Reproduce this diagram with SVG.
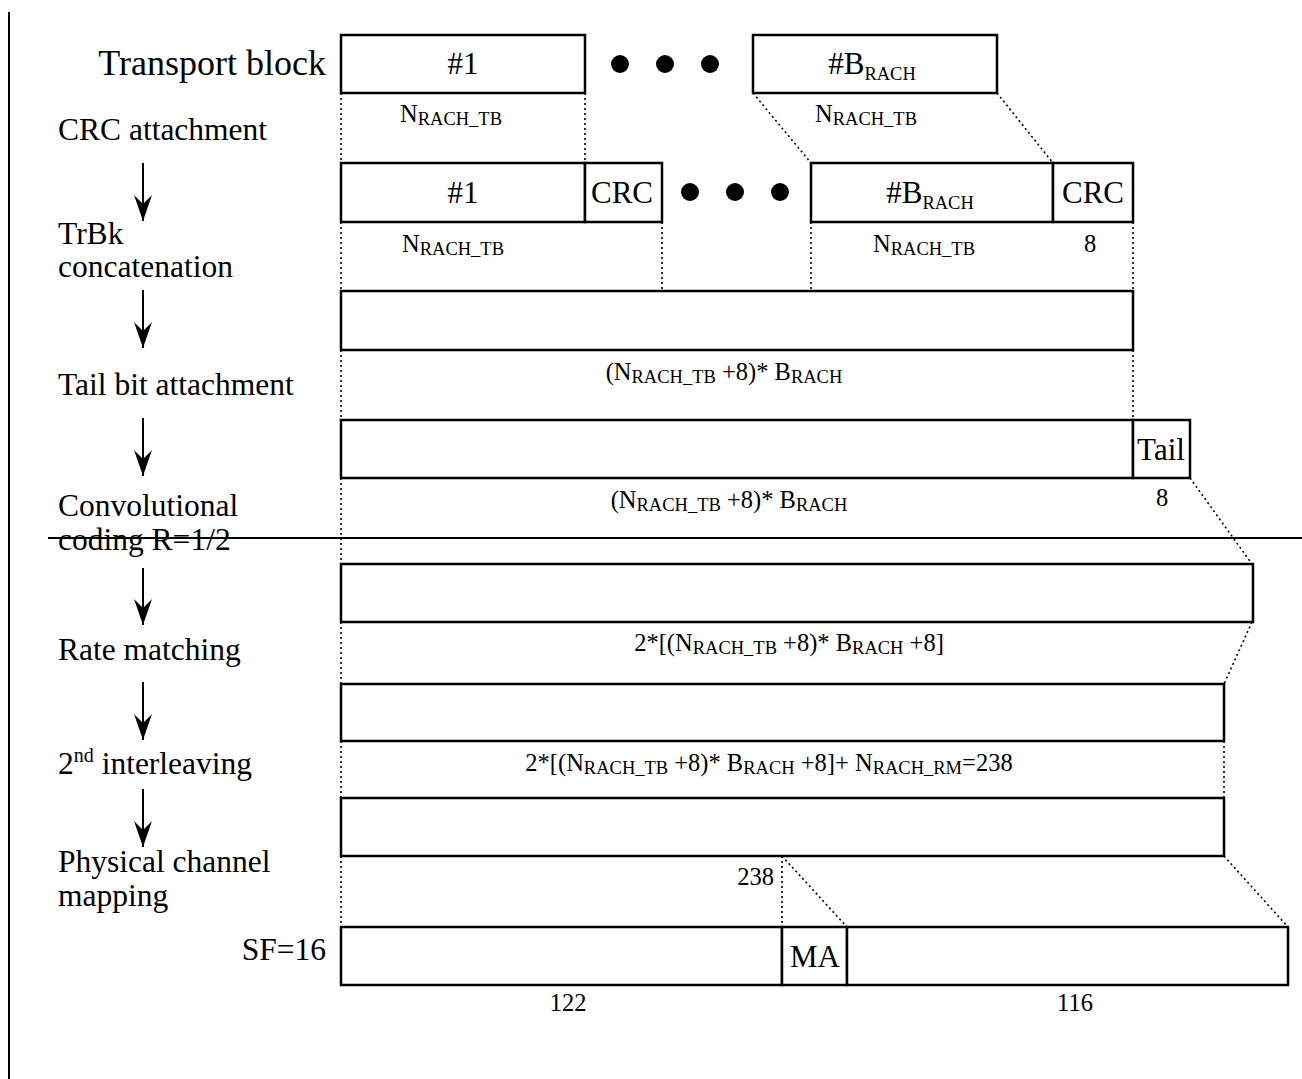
<svg xmlns="http://www.w3.org/2000/svg" width="1302" height="1079" viewBox="0 0 1302 1079">
<style>
  text { font-family: "Liberation Serif", "Times New Roman", serif; fill: #000; }
  .lbl { font-size: 31.5px; }
  .big { font-size: 36px; }
  .bx { font-size: 31px; text-anchor: middle; }
  .dim { font-size: 24.5px; }
  .sub { font-size: 18.5px; }
  .box { fill: #fff; stroke: #000; stroke-width: 2.5; }
  .dot { fill: none; stroke: #000; stroke-width: 1.6; stroke-dasharray: 2 3; }
  .arr { fill: none; stroke: #000; stroke-width: 2; marker-end: url(#ah); }
  .rule { stroke: #000; stroke-width: 2; fill: none; }
</style>
<defs>
  <marker id="ah" viewBox="0 -10 28 20" refX="26" refY="0" markerWidth="28" markerHeight="20" markerUnits="userSpaceOnUse" orient="auto">
    <path d="M0,-9 L26,0 L0,9 L9,0 Z" fill="#000"/>
  </marker>
</defs>
<rect width="1302" height="1079" fill="#fff"/>

<g id="frame">
  <line class="rule" x1="9" y1="12" x2="9" y2="1079"/>
  <line class="rule" x1="48" y1="538" x2="1302" y2="538"/>
</g>

<g id="labels">
  <text class="big" x="326" y="75" text-anchor="end">Transport block</text>
  <text class="lbl" x="58" y="140">CRC attachment</text>
  <text class="lbl" x="58" y="244">TrBk</text>
  <text class="lbl" x="58" y="277">concatenation</text>
  <text class="lbl" x="58" y="395">Tail bit attachment</text>
  <text class="lbl" x="58" y="516">Convolutional</text>
  <text class="lbl" x="58" y="550">coding R=1/2</text>
  <text class="lbl" x="58" y="660">Rate matching</text>
  <text class="lbl" x="58" y="774">2<tspan font-size="20" dy="-12">nd</tspan><tspan dy="12"> interleaving</tspan></text>
  <text class="lbl" x="58" y="872">Physical channel</text>
  <text class="lbl" x="58" y="906">mapping</text>
  <text class="lbl" x="326" y="960" text-anchor="end">SF=16</text>
</g>

<g id="connectors">
  <line class="arr" x1="143" y1="163" x2="143" y2="221"/>
  <line class="arr" x1="143" y1="290" x2="143" y2="348"/>
  <line class="arr" x1="143" y1="418" x2="143" y2="476"/>
  <line class="arr" x1="143" y1="568" x2="143" y2="625"/>
  <line class="arr" x1="143" y1="682" x2="143" y2="740"/>
  <line class="arr" x1="143" y1="789" x2="143" y2="847"/>

  <line class="dot" x1="341" y1="93" x2="341" y2="163"/>
  <line class="dot" x1="585" y1="93" x2="585" y2="163"/>
  <line class="dot" x1="753" y1="93" x2="811" y2="163"/>
  <line class="dot" x1="997" y1="93" x2="1053" y2="163"/>

  <line class="dot" x1="341" y1="222" x2="341" y2="291"/>
  <line class="dot" x1="662" y1="222" x2="662" y2="291"/>
  <line class="dot" x1="811" y1="222" x2="811" y2="291"/>
  <line class="dot" x1="1133" y1="222" x2="1133" y2="291"/>

  <line class="dot" x1="341" y1="350" x2="341" y2="420"/>
  <line class="dot" x1="1133" y1="350" x2="1133" y2="420"/>

  <line class="dot" x1="341" y1="478" x2="341" y2="564"/>
  <line class="dot" x1="1190" y1="478" x2="1252" y2="564"/>

  <line class="dot" x1="341" y1="622" x2="341" y2="684"/>
  <line class="dot" x1="1252" y1="622" x2="1224" y2="684"/>

  <line class="dot" x1="341" y1="741" x2="341" y2="798"/>
  <line class="dot" x1="1224" y1="741" x2="1224" y2="798"/>

  <line class="dot" x1="341" y1="856" x2="341" y2="927"/>
  <line class="dot" x1="782" y1="856" x2="782" y2="927"/>
  <line class="dot" x1="782" y1="856" x2="847" y2="927"/>
  <line class="dot" x1="1224" y1="856" x2="1288" y2="927"/>
</g>

<g id="tb1">
  <rect class="box" x="341" y="35" width="244" height="58"/>
  <text class="bx" x="463" y="74">#1</text>
  <text class="dim" x="451" y="122" text-anchor="middle">N<tspan class="sub" dy="3">RACH_TB</tspan></text>
</g>
<g id="dots1">
  <circle cx="620" cy="64" r="9"/>
  <circle cx="665" cy="64" r="9"/>
  <circle cx="710" cy="64" r="9"/>
</g>
<g id="tbB">
  <rect class="box" x="753" y="35" width="244" height="58"/>
  <text class="bx" x="872" y="74">#B<tspan class="sub" font-size="22" dy="6">RACH</tspan></text>
  <text class="dim" x="866" y="122" text-anchor="middle">N<tspan class="sub" dy="3">RACH_TB</tspan></text>
</g>

<g id="crc1">
  <rect class="box" x="341" y="163" width="244" height="59"/>
  <text class="bx" x="463" y="203">#1</text>
  <rect class="box" x="585" y="163" width="77" height="59"/>
  <text class="bx" x="622" y="203">CRC</text>
  <text class="dim" x="453" y="252" text-anchor="middle">N<tspan class="sub" dy="3">RACH_TB</tspan></text>
</g>
<g id="dots2">
  <circle cx="690" cy="192" r="9"/>
  <circle cx="735" cy="192" r="9"/>
  <circle cx="780" cy="192" r="9"/>
</g>
<g id="crcB">
  <rect class="box" x="811" y="163" width="242" height="59"/>
  <text class="bx" x="930" y="203">#B<tspan class="sub" font-size="22" dy="6">RACH</tspan></text>
  <rect class="box" x="1053" y="163" width="80" height="59"/>
  <text class="bx" x="1093" y="203">CRC</text>
  <text class="dim" x="924" y="252" text-anchor="middle">N<tspan class="sub" dy="3">RACH_TB</tspan></text>
  <text class="dim" x="1090" y="252" text-anchor="middle">8</text>
</g>

<g id="concat">
  <rect class="box" x="341" y="291" width="792" height="59"/>
  <text class="dim" x="724" y="380" text-anchor="middle">(N<tspan class="sub" dy="3">RACH_TB</tspan><tspan dy="-3"> +8)* B</tspan><tspan class="sub" dy="3">RACH</tspan></text>
</g>

<g id="tail">
  <rect class="box" x="341" y="420" width="792" height="58"/>
  <rect class="box" x="1133" y="420" width="57" height="58"/>
  <text class="bx" x="1161" y="460" font-size="29">Tail</text>
  <text class="dim" x="729" y="508" text-anchor="middle">(N<tspan class="sub" dy="3">RACH_TB</tspan><tspan dy="-3"> +8)* B</tspan><tspan class="sub" dy="3">RACH</tspan></text>
  <text class="dim" x="1162" y="506" text-anchor="middle">8</text>
</g>

<g id="conv">
  <rect class="box" x="341" y="564" width="912" height="58"/>
  <text class="dim" x="789" y="651" text-anchor="middle">2*[(N<tspan class="sub" dy="3">RACH_TB</tspan><tspan dy="-3"> +8)* B</tspan><tspan class="sub" dy="3">RACH</tspan><tspan dy="-3"> +8]</tspan></text>
</g>

<g id="ratematch">
  <rect class="box" x="341" y="684" width="883" height="57"/>
  <text class="dim" x="769" y="771" text-anchor="middle">2*[(N<tspan class="sub" dy="3">RACH_TB</tspan><tspan dy="-3"> +8)* B</tspan><tspan class="sub" dy="3">RACH</tspan><tspan dy="-3"> +8]+ N</tspan><tspan class="sub" dy="3">RACH_RM</tspan><tspan dy="-3">=238</tspan></text>
</g>

<g id="interleave">
  <rect class="box" x="341" y="798" width="883" height="58"/>
  <text class="dim" x="774" y="885" text-anchor="end" font-size="25.5">238</text>
</g>

<g id="phys">
  <rect class="box" x="341" y="927" width="441" height="58"/>
  <rect class="box" x="782" y="927" width="65" height="58"/>
  <text class="bx" x="815" y="967" font-size="34">MA</text>
  <rect class="box" x="847" y="927" width="441" height="58"/>
  <text class="dim" x="568" y="1011" text-anchor="middle">122</text>
  <text class="dim" x="1075" y="1011" text-anchor="middle">116</text>
</g>
</svg>
